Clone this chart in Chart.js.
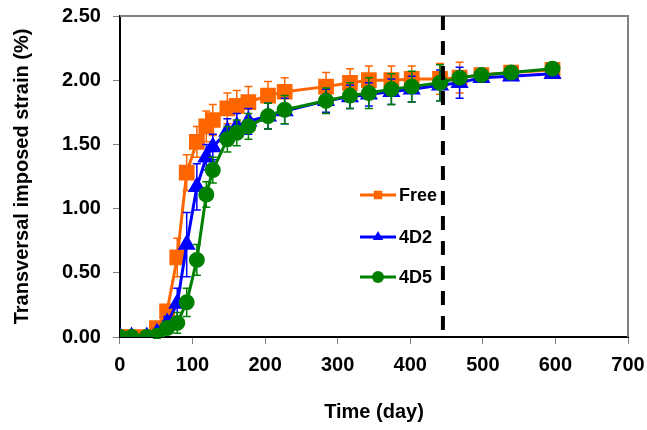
<!DOCTYPE html>
<html>
<head>
<meta charset="utf-8">
<script src="https://cdn.jsdelivr.net/npm/chart.js@4.4.1/dist/chart.umd.min.js"></script>
<style>
  html, body { margin: 0; padding: 0; background: #fff; }
  #wrap { width: 647px; height: 430px; }
</style>
</head>
<body>
<div id="wrap"><canvas id="mycanvas" width="647" height="430"></canvas></div>
<script>
// days of measurement
var days = [0, 16, 37, 51, 65, 79, 92, 106, 119, 128, 148, 161, 177, 204, 227, 284, 317, 343, 374, 402, 441, 468, 498, 539, 596];

var freeVal = [0, 0, 0, 0.07, 0.20, 0.62, 1.28, 1.52, 1.64, 1.69, 1.78, 1.80, 1.83, 1.88, 1.91, 1.95, 1.98, 2.00, 2.00, 2.01, 2.01, 2.02, 2.04, 2.06, 2.08];
var d2Val   = [0, 0, 0, 0.03, 0.11, 0.26, 0.72, 1.17, 1.40, 1.48, 1.60, 1.64, 1.68, 1.72, 1.76, 1.84, 1.87, 1.89, 1.91, 1.93, 1.96, 1.98, 2.02, 2.03, 2.05];
var d5Val   = [0, 0, 0, 0.01, 0.07, 0.11, 0.27, 0.60, 1.11, 1.30, 1.54, 1.59, 1.64, 1.72, 1.77, 1.84, 1.88, 1.90, 1.93, 1.95, 1.98, 2.02, 2.04, 2.06, 2.09];

// error bars (+/-)
var freeErr = [0, 0, 0, 0.02, 0.05, 0.15, 0.14, 0.12, 0.12, 0.12, 0.12, 0.12, 0.12, 0.11, 0.11, 0.11, 0.11, 0.11, 0.11, 0.10, 0.12, 0.12, 0, 0, 0];
var d2Err   = [0, 0, 0, 0.02, 0.05, 0.12, 0.25, 0.18, 0.10, 0.10, 0.10, 0.10, 0.10, 0.10, 0.10, 0.09, 0.09, 0.09, 0.10, 0.10, 0.12, 0.12, 0, 0, 0];
var d5Err   = [0, 0, 0, 0.02, 0.04, 0.08, 0.11, 0.12, 0.10, 0.10, 0.10, 0.10, 0.10, 0.10, 0.11, 0.10, 0.10, 0.12, 0.12, 0.12, 0.14, 0, 0, 0, 0];

var seriesNames = ['Free', '4D2', '4D5'];
var dashDay = 445;
var yTicks = [0, 0.5, 1, 1.5, 2, 2.5];

function toXY(vals) {
  var pts = [];
  for (var i in days) pts.push({x: days[i], y: vals[i]});
  return pts;
}

// error bars, drawn just before each line
var errorBars = {
  id: 'errorBars',
  beforeDatasetDraw: function(chart, args) {
    var ds = chart.data.datasets[args.index];
    if (!ds.err) return;
    var ctx = chart.ctx, xs = chart.scales.x, ys = chart.scales.y;
    ctx.save();
    ctx.strokeStyle = ds.borderColor;
    ctx.lineWidth = 1.5;
    for (var i = 0; i < ds.data.length; i++) {
      var e = ds.err[i];
      if (!e) continue;
      var px = xs.getPixelForValue(ds.data[i].x);
      var top = ys.getPixelForValue(ds.data[i].y + e);
      var bot = ys.getPixelForValue(ds.data[i].y - e);
      ctx.beginPath();
      ctx.moveTo(px, top); ctx.lineTo(px, bot);
      ctx.moveTo(px - 4, top); ctx.lineTo(px + 4, top);
      ctx.moveTo(px - 4, bot); ctx.lineTo(px + 4, bot);
      ctx.stroke();
    }
    ctx.restore();
  }
};

// gray frame on top/right + dashed line + legend inside the plot
var extras = {
  id: 'extras',
  beforeDatasetsDraw: function(chart) {
    var ctx = chart.ctx, a = chart.chartArea;
    ctx.save();
    ctx.strokeStyle = '#808080';
    ctx.lineWidth = 2;
    ctx.beginPath();
    ctx.moveTo(a.left, a.top); ctx.lineTo(a.right, a.top); ctx.lineTo(a.right, a.bottom);
    ctx.stroke();
    ctx.restore();
  },
  afterDatasetsDraw: function(chart) {
    var ctx = chart.ctx, a = chart.chartArea;
    var px = chart.scales.x.getPixelForValue(dashDay);
    ctx.save();
    ctx.strokeStyle = '#000';
    ctx.lineWidth = 4;
    ctx.setLineDash([14, 11]);
    ctx.beginPath();
    ctx.moveTo(px, a.top); ctx.lineTo(px, a.bottom);
    ctx.stroke();
    ctx.restore();

    // legend
    var lx = 360, ly = [195, 237, 277];
    ctx.save();
    chart.data.datasets.forEach(function(ds, i) {
      var y = ly[i];
      ctx.strokeStyle = ds.borderColor;
      ctx.fillStyle = ds.borderColor;
      ctx.lineWidth = 3;
      ctx.beginPath();
      ctx.moveTo(lx, y); ctx.lineTo(lx + 36, y);
      ctx.stroke();
      Chart.helpers.drawPoint(ctx, {pointStyle: ds.pointStyle, radius: 6, borderWidth: 0}, lx + 18, y);
      ctx.fillStyle = '#000';
      ctx.font = 'bold 18px "Liberation Sans", Arial, sans-serif';
      ctx.textBaseline = 'middle';
      ctx.fillText(ds.label, lx + 39, y + 1);
    });
    ctx.restore();
  }
};

var ctx = document.getElementById('mycanvas');
var bold20 = {family: '"Liberation Sans", Arial, sans-serif', size: 20, weight: 'bold'};

function noOverflow(axis) {
  axis.paddingTop = 0; axis.paddingBottom = 0;
  axis.paddingLeft = 0; axis.paddingRight = 0;
}

var Graph = new Chart(ctx, {
  type: 'line',
  data: {
    datasets: [
      {label: seriesNames[0], data: toXY(freeVal), err: freeErr, borderColor: '#FF6600', backgroundColor: '#FF6600',
       pointStyle: 'rect', pointRadius: 9, borderWidth: 3, order: 2},
      {label: seriesNames[1], data: toXY(d2Val), err: d2Err, borderColor: '#0000FF', backgroundColor: '#0000FF',
       pointStyle: 'triangle', pointRadius: 7.5, borderWidth: 3, order: 1},
      {label: seriesNames[2], data: toXY(d5Val), err: d5Err, borderColor: '#008000', backgroundColor: '#008000',
       pointStyle: 'circle', pointRadius: 6.5, borderWidth: 3, order: 0}
    ]
  },
  options: {
    responsive: false,
    animation: false,
    layout: {padding: {top: 16, right: 19, bottom: 0, left: 0}},
    elements: {line: {tension: 0}, point: {borderWidth: 0}},
    plugins: {legend: {display: false}, tooltip: {enabled: false}},
    scales: {
      x: {
        type: 'linear', min: 0, max: 700,
        afterFit: noOverflow,
        ticks: {stepSize: 100, font: bold20, color: '#000', padding: 9},
        grid: {drawOnChartArea: false, tickLength: 7, color: '#808080'},
        border: {color: '#000', width: 2},
        title: {display: true, text: 'Time (day)', font: bold20, color: '#000', padding: {top: 14, bottom: 6}}
      },
      y: {
        min: 0, max: 2.5,
        afterFit: noOverflow,
        afterBuildTicks: function(axis) { axis.ticks = yTicks.map(function(v) { return {value: v}; }); },
        ticks: {font: bold20, color: '#000', padding: 12, callback: function(v) { return v.toFixed(2); }},
        grid: {drawOnChartArea: false, tickLength: 7, color: '#808080'},
        border: {color: '#000', width: 2},
        title: {display: true, text: 'Transversal imposed strain (%)', font: bold20, color: '#000', padding: {top: 10, bottom: 16}}
      }
    }
  },
  plugins: [errorBars, extras]
});
</script>
</body>
</html>
